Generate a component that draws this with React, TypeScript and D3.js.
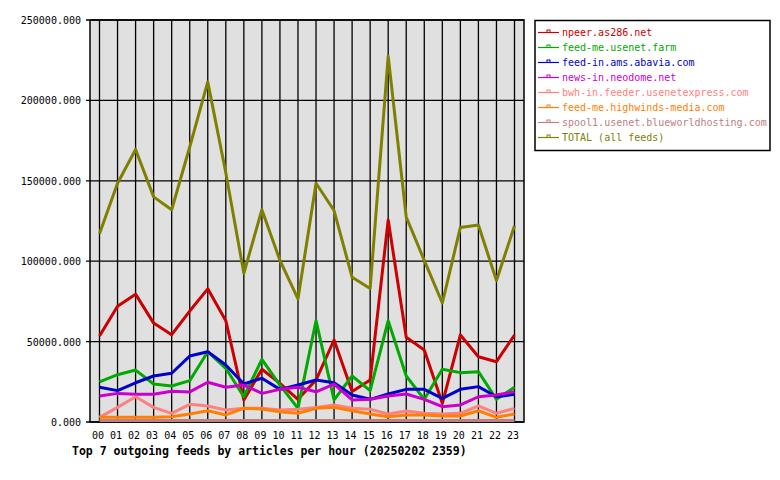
import React, { useEffect, useRef } from "react";
import * as d3 from "d3";

const hours = [
  "00", "01", "02", "03", "04", "05", "06", "07", "08", "09", "10", "11",
  "12", "13", "14", "15", "16", "17", "18", "19", "20", "21", "22", "23",
];

const yTicks = [0, 50000, 100000, 150000, 200000, 250000];

// articles per hour, one array per feed
const npeer = [53500, 72000, 79500, 61500, 54300, 69000, 82800, 63000, 13700, 32800, 24000, 14100,
  26100, 51000, 18900, 26100, 125600, 52700, 44800, 11600, 54100, 40600, 37500, 54100];
const usenetFarm = [24900, 29400, 32300, 23600, 22400, 25700, 43700, 33400, 15700, 39000, 23000, 8500,
  63000, 13700, 28600, 19500, 63000, 28600, 14100, 32800, 30700, 31300, 14100, 21600];
const abavia = [21600, 19500, 24400, 28600, 30300, 41000, 43700, 35400, 23600, 27200, 20300, 23000,
  26100, 24400, 16800, 14100, 17400, 20300, 20300, 14700, 20300, 22000, 15700, 17200];
const neodome = [16200, 17800, 17200, 17200, 19100, 18700, 24700, 21600, 23000, 17800, 20300, 21600,
  18800, 23600, 13700, 14100, 16200, 17400, 14100, 9500, 10600, 15700, 16800, 18800];
const usenetExpress = [2900, 9100, 15700, 9100, 5400, 11000, 10000, 7500, 8500, 8500, 7500, 7900,
  9100, 10600, 8500, 7900, 5000, 6800, 5400, 5000, 5400, 10000, 5400, 8500];
const highwinds = [2900, 2900, 2900, 2900, 3300, 5000, 7000, 4400, 8500, 8100, 6400, 5400,
  8500, 9100, 7000, 5000, 3300, 4400, 4400, 3700, 3700, 7000, 2900, 5000];
const blueworld = [900, 900, 900, 900, 900, 900, 900, 900, 900, 900, 900, 900,
  900, 900, 900, 900, 900, 900, 900, 900, 900, 900, 900, 900];
const total = [117000, 148500, 169500, 140000, 132000, 171000, 211500, 155000, 92500, 132000, 100500, 76500,
  148500, 131500, 90000, 83000, 227500, 127500, 100500, 74000, 121000, 122500, 88000, 122000];

const feeds = [
  { name: "npeer.as286.net", color: "#cc0000", values: npeer },
  { name: "feed-me.usenet.farm", color: "#00aa00", values: usenetFarm },
  { name: "feed-in.ams.abavia.com", color: "#0000cc", values: abavia },
  { name: "news-in.neodome.net", color: "#cc00cc", values: neodome },
  { name: "bwh-in.feeder.usenetexpress.com", color: "#ff8080", values: usenetExpress },
  { name: "feed-me.highwinds-media.com", color: "#ff8000", values: highwinds },
  { name: "spool1.usenet.blueworldhosting.com", color: "#c08080", values: blueworld },
  { name: "TOTAL (all feeds)", color: "#808000", values: total },
];

const FONT = "'DejaVu Sans Mono', monospace";

const App = () => {
  const ref = useRef(null);

  useEffect(() => {
    if (!ref.current) return;
    const svg = d3.select(ref.current);
    svg.selectAll("*").remove();

    const left = 90, right = 524, top = 20, bottom = 422;
    const x = d3.scalePoint().domain(hours).range([99.5, 514.5]);
    const y = d3.scaleLinear().domain([0, 250000]).range([bottom, top]);

    svg.append("rect").attr("width", 780).attr("height", 480).attr("fill", "#fff");

    // plot background
    svg.append("rect")
      .attr("x", left).attr("y", top)
      .attr("width", right - left).attr("height", bottom - top)
      .attr("fill", "#e0e0e0");

    // vertical hour grid
    hours.forEach((h) => {
      svg.append("line")
        .attr("x1", x(h)).attr("x2", x(h))
        .attr("y1", top).attr("y2", bottom)
        .attr("stroke", "#000").attr("stroke-width", 1.3);
    });

    // horizontal grid + tick labels
    yTicks.forEach((t) => {
      svg.append("line")
        .attr("x1", left - 4).attr("x2", right)
        .attr("y1", y(t)).attr("y2", y(t))
        .attr("stroke", "#000").attr("stroke-width", 1.3);
      svg.append("text")
        .attr("x", 81).attr("y", y(t) + 4)
        .attr("text-anchor", "end")
        .attr("font-family", FONT).attr("font-size", 10)
        .attr("fill", "#000")
        .text(d3.format(".3f")(t));
    });

    svg.append("rect")
      .attr("x", left).attr("y", top)
      .attr("width", right - left).attr("height", bottom - top)
      .attr("fill", "none").attr("stroke", "#000").attr("stroke-width", 1.5);

    hours.forEach((h) => {
      svg.append("text")
        .attr("x", x(h) - 1.5).attr("y", 439)
        .attr("text-anchor", "middle")
        .attr("font-family", FONT).attr("font-size", 10)
        .attr("fill", "#000")
        .text(h);
    });

    const line = d3.line()
      .x((d, i) => x(hours[i]))
      .y((d) => y(d));

    feeds.forEach((f) => {
      svg.append("path")
        .datum(f.values)
        .attr("d", line)
        .attr("fill", "none")
        .attr("stroke", f.color)
        .attr("stroke-width", 3)
        .attr("stroke-linejoin", "round");
    });

    // legend
    const lg = svg.append("g");
    lg.append("rect")
      .attr("x", 535).attr("y", 20.5)
      .attr("width", 235).attr("height", 130)
      .attr("fill", "#fff").attr("stroke", "#000").attr("stroke-width", 1.5);

    feeds.forEach((f, i) => {
      const ly = 32.5 + i * 15;
      lg.append("line")
        .attr("x1", 538).attr("x2", 559)
        .attr("y1", ly).attr("y2", ly)
        .attr("stroke", f.color).attr("stroke-width", 1.2);
      lg.append("rect")
        .attr("x", 547).attr("y", ly - 2.5)
        .attr("width", 3).attr("height", 2.5)
        .attr("fill", "none").attr("stroke", f.color).attr("stroke-width", 1);
      lg.append("text")
        .attr("x", 562).attr("y", ly + 3.5)
        .attr("font-family", FONT).attr("font-size", 10)
        .attr("fill", f.color)
        .text(f.name);
    });

    svg.append("text")
      .attr("x", 72).attr("y", 455)
      .attr("font-family", FONT).attr("font-size", 11.5)
      .attr("font-weight", "bold")
      .attr("fill", "#000")
      .text("Top 7 outgoing feeds by articles per hour (20250202 2359)");
  }, []);

  return (
    <div style={{ position: "absolute", left: 0, top: 0 }}>
      <svg ref={ref} width={780} height={480}></svg>
    </div>
  );
};

export default App;
